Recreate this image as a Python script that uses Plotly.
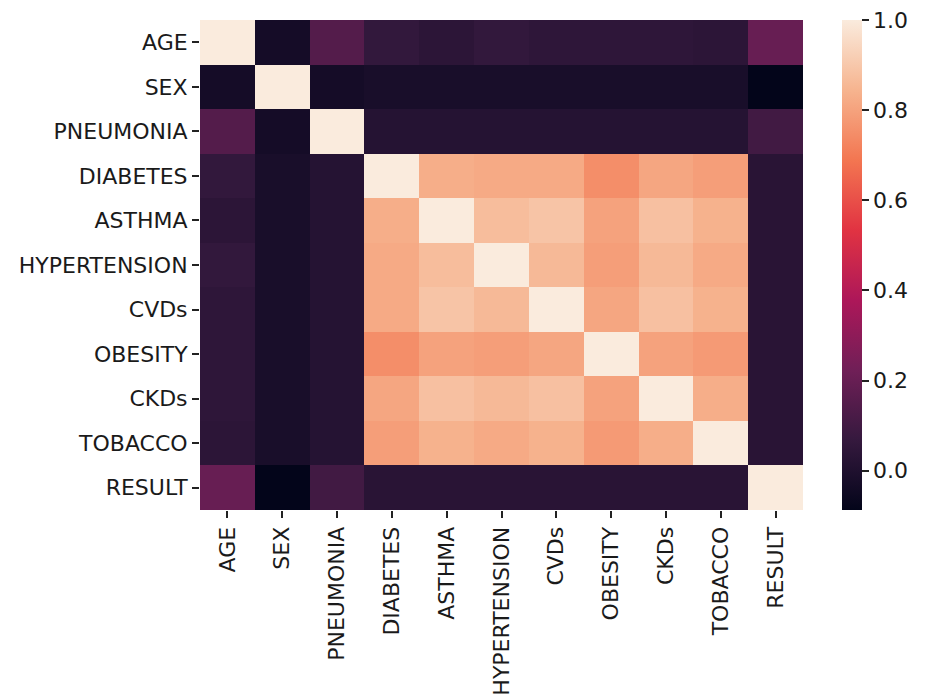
import plotly.graph_objects as go

labels = ["AGE", "SEX", "PNEUMONIA", "DIABETES", "ASTHMA", "HYPERTENSION",
          "CVDs", "OBESITY", "CKDs", "TOBACCO", "RESULT"]

# correlation matrix (rows/cols follow `labels`)
age       = [1.00, -0.03, 0.15, 0.06, 0.04, 0.06, 0.045, 0.045, 0.045, 0.04, 0.20]
sex       = [-0.03, 1.00, -0.03, -0.02, -0.02, -0.02, -0.02, -0.02, -0.02, -0.02, -0.087]
pneumonia = [0.15, -0.03, 1.00, 0.02, 0.02, 0.02, 0.02, 0.02, 0.02, 0.02, 0.10]
diabetes  = [0.06, -0.02, 0.02, 1.00, 0.83, 0.82, 0.82, 0.75, 0.81, 0.79, 0.03]
asthma    = [0.04, -0.02, 0.02, 0.83, 1.00, 0.87, 0.89, 0.80, 0.88, 0.84, 0.03]
hypert    = [0.06, -0.02, 0.02, 0.82, 0.87, 1.00, 0.86, 0.79, 0.86, 0.82, 0.03]
cvds      = [0.045, -0.02, 0.02, 0.82, 0.89, 0.86, 1.00, 0.81, 0.88, 0.84, 0.03]
obesity   = [0.045, -0.02, 0.02, 0.75, 0.80, 0.79, 0.81, 1.00, 0.80, 0.78, 0.03]
ckds      = [0.045, -0.02, 0.02, 0.81, 0.88, 0.86, 0.88, 0.80, 1.00, 0.83, 0.03]
tobacco   = [0.04, -0.02, 0.02, 0.79, 0.84, 0.82, 0.84, 0.78, 0.83, 1.00, 0.03]
result    = [0.20, -0.087, 0.10, 0.03, 0.03, 0.03, 0.03, 0.03, 0.03, 0.03, 1.00]

matrix = [age, sex, pneumonia, diabetes, asthma, hypert, cvds, obesity, ckds, tobacco, result]

colorbar_ticks = [0.0, 0.2, 0.4, 0.6, 0.8, 1.0]

# seaborn "rocket" colormap
rocket = [
    [0.0, "#03051A"],
    [1 / 7, "#35193E"],
    [2 / 7, "#701F57"],
    [3 / 7, "#AD1759"],
    [4 / 7, "#E13342"],
    [5 / 7, "#F37651"],
    [6 / 7, "#F6B48F"],
    [1.0, "#FAEBDD"],
]

font = dict(family="DejaVu Sans", size=22, color="#1a1a1a")

fig = go.Figure(go.Heatmap(
    z=matrix, x=labels, y=labels,
    colorscale=rocket, zmin=-0.087, zmax=1.0,
    xgap=0, ygap=0,
    colorbar=dict(
        x=1.0647, xanchor="left", xpad=0,
        y=0.5, yanchor="middle", len=1.0, lenmode="fraction", ypad=0,
        thickness=20, outlinewidth=0,
        tickvals=colorbar_ticks, ticktext=[f"{v:.1f}" for v in colorbar_ticks],
        ticks="outside", ticklen=7, tickwidth=1.5, tickcolor="#222",
        tickfont=font,
    ),
))

fig.update_layout(
    width=927, height=699,
    margin=dict(l=200, r=124, t=20, b=189, autoexpand=False),
    paper_bgcolor="white", plot_bgcolor="white",
    font=font,
)
fig.update_xaxes(tickangle=-90, ticks="outside", ticklen=7, tickwidth=1.5,
                 tickcolor="#222", showgrid=False, zeroline=False, tickfont=font,
                 automargin=False)
fig.update_yaxes(autorange="reversed", ticks="outside", ticklen=7, tickwidth=1.5,
                 tickcolor="#222", showgrid=False, zeroline=False, tickfont=font,
                 automargin=False)

fig.write_html("out.html")
